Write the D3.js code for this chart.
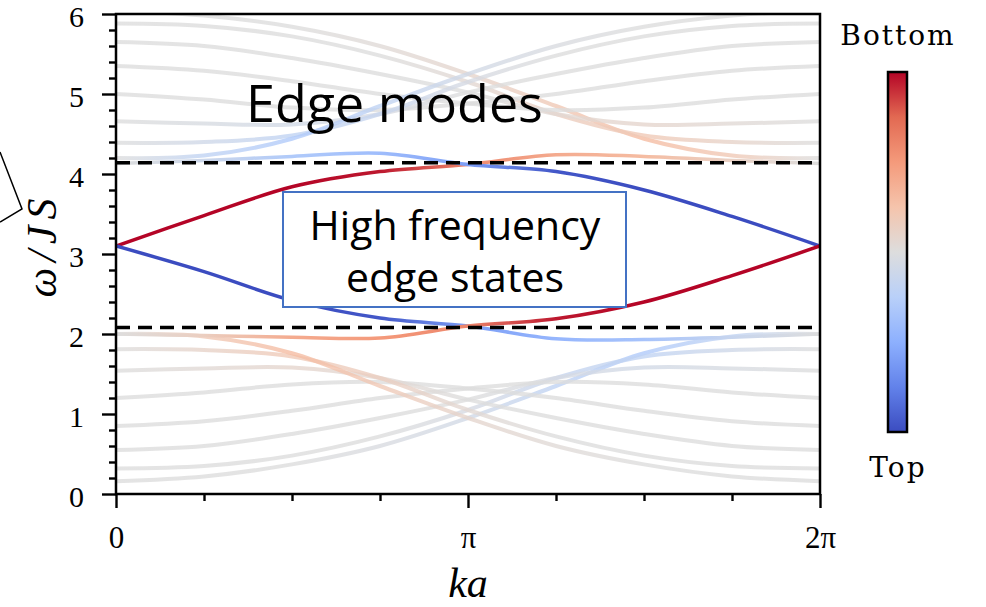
<!DOCTYPE html>
<html>
<head>
<meta charset="utf-8">
<script src="https://cdn.jsdelivr.net/npm/d3@7"></script>
<style>
  html, body { margin: 0; padding: 0; background: #fff; }
  #BandChart { width: 986px; height: 607px; }
</style>
</head>
<body>
<div id="BandChart"></div>
<script>
// k sample points (units of pi)
var kPts = [0, 0.25, 0.5, 0.75, 1, 1.25, 1.5, 1.75, 2];

// lower bulk band, omega/JS read at each k point
var lowerBand = [
  [0.16, 0.22, 0.37, 0.60, 0.95, 1.35, 1.76, 1.97, 2.00],
  [0.32, 0.35, 0.48, 0.72, 1.05, 1.45, 1.72, 1.80, 1.81],
  [0.55, 0.60, 0.75, 0.95, 1.18, 1.45, 1.58, 1.57, 1.54],
  [0.85, 0.91, 1.04, 1.20, 1.32, 1.40, 1.37, 1.27, 1.20],
  [1.20, 1.27, 1.37, 1.40, 1.32, 1.20, 1.04, 0.91, 0.85],
  [1.54, 1.57, 1.58, 1.45, 1.18, 0.95, 0.75, 0.60, 0.55],
  [1.81, 1.80, 1.72, 1.45, 1.05, 0.72, 0.48, 0.35, 0.32],
  [2.00, 1.97, 1.76, 1.35, 0.95, 0.60, 0.37, 0.22, 0.16]
];
// edge weight (-1 top .. +1 bottom) along each lower curve
var lowerPol = [
  [0, 0, 0, -0.03, -0.08, -0.2, -0.3, -0.2, 0],
  [0, 0, 0, 0, -0.05, -0.15, -0.2, -0.1, 0],
  [0, 0, 0, 0, 0, -0.05, -0.08, -0.04, 0],
  [0, 0, 0, 0, 0, 0, 0, 0, 0],
  [0, 0, 0, 0, 0, 0, 0, 0, 0],
  [0, 0.04, 0.08, 0.05, 0, 0, 0, 0, 0],
  [0, 0.1, 0.2, 0.15, 0.05, 0, 0, 0, 0],
  [0, 0.2, 0.3, 0.2, 0.08, 0.03, 0, 0, 0]
];

// upper bulk band
var upperBand = [
  [6.04, 5.98, 5.84, 5.60, 5.25, 4.85, 4.44, 4.23, 4.20],
  [5.88, 5.85, 5.72, 5.48, 5.15, 4.75, 4.48, 4.40, 4.39],
  [5.65, 5.60, 5.45, 5.25, 5.02, 4.75, 4.62, 4.63, 4.66],
  [5.35, 5.29, 5.16, 5.00, 4.88, 4.80, 4.83, 4.93, 5.00],
  [5.00, 4.93, 4.83, 4.80, 4.88, 5.00, 5.16, 5.29, 5.35],
  [4.66, 4.63, 4.62, 4.75, 5.02, 5.25, 5.45, 5.60, 5.65],
  [4.39, 4.40, 4.48, 4.75, 5.15, 5.48, 5.72, 5.85, 5.88],
  [4.20, 4.23, 4.44, 4.85, 5.25, 5.60, 5.84, 5.98, 6.04]
];
var upperPol = [
  [0, 0, 0, 0.03, 0.08, 0.2, 0.3, 0.2, 0],
  [0, 0, 0, 0, 0.05, 0.15, 0.2, 0.1, 0],
  [0, 0, 0, 0, 0, 0.05, 0.08, 0.04, 0],
  [0, 0, 0, 0, 0, 0, 0, 0, 0],
  [0, 0, 0, 0, 0, 0, 0, 0, 0],
  [0, -0.04, -0.08, -0.05, 0, 0, 0, 0, 0],
  [0, -0.1, -0.2, -0.15, -0.05, 0, 0, 0, 0],
  [0, -0.2, -0.3, -0.2, -0.08, -0.03, 0, 0, 0]
];

// in-gap edge states
var edgeBand = [
  [3.10, 3.48, 3.84, 4.03, 4.12, 4.24, 4.22, 4.17, 4.13],
  [4.13, 4.17, 4.22, 4.26, 4.12, 4.03, 3.80, 3.47, 3.10],
  [3.10, 2.78, 2.42, 2.20, 2.10, 1.94, 1.93, 1.96, 2.00],
  [2.00, 1.98, 1.96, 1.95, 2.10, 2.19, 2.40, 2.73, 3.10]
];
var edgePol = [
  [1, 1, 1, 0.95, 0.6, 0.4, 0.3, 0.12, 0],
  [0, -0.12, -0.3, -0.4, -0.6, -0.95, -1, -1, -1],
  [-1, -1, -1, -0.95, -0.6, -0.45, -0.35, -0.15, 0],
  [0, 0.15, 0.4, 0.5, 0.6, 0.95, 1, 1, 1]
];

var gapEdges = [2.08, 4.14];
var yTicks = [0, 1, 2, 3, 4, 5, 6];
var xTicks = [0, 1, 2];
var xTickLabels = ['0', 'π', '2π'];

var coolwarm = d3.piecewise(d3.interpolateRgb, [
  '#3b4cc0', '#6282ea', '#8db0fe', '#b9d0f9', '#dddddd',
  '#f5c4ac', '#f49a7b', '#e26952', '#b40426'
]);

var BandChart = {

  draw: function() {
    var svg = d3.select('#BandChart').append('svg')
      .attr('width', 986)
      .attr('height', 607);
    this.svg = svg;
    this.x = d3.scaleLinear().domain([0, 2]).range([116, 820]);
    this.y = d3.scaleLinear().domain([0, 6]).range([494, 14]);
    this.defs = svg.append('defs');
    this.defs.append('clipPath').attr('id', 'plotClip')
      .append('rect')
      .attr('x', 116).attr('y', 14)
      .attr('width', 704).attr('height', 480);

    this.drawCurves();
    this.drawFrame();
    this.drawColorbar();
    this.drawNotes();
  },

  gradient: function(id, pol) {
    var x = this.x;
    var g = this.defs.append('linearGradient')
      .attr('id', id)
      .attr('gradientUnits', 'userSpaceOnUse')
      .attr('x1', x(0)).attr('x2', x(2))
      .attr('y1', 0).attr('y2', 0);
    g.selectAll('stop').data(pol).enter()
      .append('stop')
      .attr('offset', function(d, i) { return kPts[i] / 2; })
      .attr('stop-color', function(d) { return coolwarm((d + 1) / 2); });
    return 'url(#' + id + ')';
  },

  drawCurves: function() {
    var self = this;
    var x = this.x, y = this.y;
    var line = d3.line()
      .x(function(d, i) { return x(kPts[i]); })
      .y(function(d) { return y(d); })
      .curve(d3.curveCatmullRom);

    var plot = this.svg.append('g').attr('clip-path', 'url(#plotClip)');

    var bulk = lowerBand.map(function(d, i) { return { e: d, p: lowerPol[i], id: 'lo' + i }; })
      .concat(upperBand.map(function(d, i) { return { e: d, p: upperPol[i], id: 'up' + i }; }));

    plot.selectAll('path.bulk').data(bulk).enter()
      .append('path')
      .classed('bulk', true)
      .attr('d', function(d) { return line(d.e); })
      .attr('fill', 'none')
      .attr('stroke', function(d) { return self.gradient('g_' + d.id, d.p); })
      .attr('stroke-width', 4)
      .attr('stroke-opacity', 0.8);

    plot.selectAll('path.edge').data(edgeBand).enter()
      .append('path')
      .classed('edge', true)
      .attr('d', function(d) { return line(d); })
      .attr('fill', 'none')
      .attr('stroke', function(d, i) { return self.gradient('g_edge' + i, edgePol[i]); })
      .attr('stroke-width', 3.5);

    plot.selectAll('line.gap').data(gapEdges).enter()
      .append('line')
      .classed('gap', true)
      .attr('x1', x(0)).attr('x2', x(2))
      .attr('y1', function(d) { return y(d); })
      .attr('y2', function(d) { return y(d); })
      .attr('stroke', '#000')
      .attr('stroke-width', 3.5)
      .attr('stroke-dasharray', '14,8');
  },

  drawFrame: function() {
    var svg = this.svg, x = this.x, y = this.y;
    var serif = '"Liberation Serif", "Times New Roman", serif';

    var minorY = d3.range(1, 30).map(function(i) { return i * 0.2; })
      .filter(function(v) { return Math.abs(v - Math.round(v)) > 0.01; });
    var minorX = [0.25, 0.5, 0.75, 1.25, 1.5, 1.75];

    var yMinor = svg.append('g').attr('transform', 'translate(116,0)')
      .call(d3.axisLeft(y).tickValues(minorY).tickSize(7).tickFormat(''));
    var yMajor = svg.append('g').attr('transform', 'translate(116,0)')
      .call(d3.axisLeft(y).tickValues(yTicks).tickSize(14).tickPadding(18).tickFormat(d3.format('d')));
    var xMinor = svg.append('g').attr('transform', 'translate(0,494)')
      .call(d3.axisBottom(x).tickValues(minorX).tickSize(7).tickFormat(''));
    var xMajor = svg.append('g').attr('transform', 'translate(0,494)')
      .call(d3.axisBottom(x).tickValues(xTicks).tickSize(14).tickPadding(18)
        .tickFormat(function(d, i) { return xTickLabels[i]; }));

    [yMinor, yMajor, xMinor, xMajor].forEach(function(g) {
      g.select('.domain').remove();
      g.selectAll('.tick line').attr('stroke', '#000').attr('stroke-width', 2.4);
      g.selectAll('.tick text')
        .attr('fill', '#000')
        .style('font-family', serif)
        .style('font-size', '31px');
    });
    yMajor.selectAll('.tick text')
      .style('font-size', '30px')
      .attr('dy', '0.4em');

    svg.append('rect')
      .attr('x', 116).attr('y', 14)
      .attr('width', 704).attr('height', 480)
      .attr('fill', 'none')
      .attr('stroke', '#000')
      .attr('stroke-width', 2.5);

    svg.append('text')
      .attr('x', 468).attr('y', 597)
      .attr('text-anchor', 'middle')
      .style('font-family', serif)
      .style('font-style', 'italic')
      .style('font-size', '42px')
      .text('ka');

    svg.append('text')
      .attr('transform', 'translate(56,245) rotate(-90)')
      .attr('text-anchor', 'middle')
      .style('font-family', serif)
      .style('font-style', 'italic')
      .style('font-size', '42px')
      .style('letter-spacing', '6px')
      .text('ω/JS');
  },

  drawColorbar: function() {
    var svg = this.svg;
    var cb = d3.scaleLinear().domain([-1, 1]).range([432, 72]);
    var grad = this.defs.append('linearGradient')
      .attr('id', 'cbGrad')
      .attr('x1', 0).attr('x2', 0).attr('y1', 1).attr('y2', 0);
    grad.selectAll('stop').data(d3.range(0, 1.001, 0.125)).enter()
      .append('stop')
      .attr('offset', function(d) { return d; })
      .attr('stop-color', function(d) { return coolwarm(d); });

    svg.append('rect')
      .attr('x', 888).attr('y', cb(1))
      .attr('width', 19).attr('height', cb(-1) - cb(1))
      .attr('fill', 'url(#cbGrad)')
      .attr('stroke', '#000')
      .attr('stroke-width', 2.5);

    var labels = [{ t: 'Bottom', y: 45 }, { t: 'Top', y: 477 }];
    svg.selectAll('text.cblabel').data(labels).enter()
      .append('text')
      .classed('cblabel', true)
      .attr('x', 898)
      .attr('y', function(d) { return d.y; })
      .attr('text-anchor', 'middle')
      .style('font-family', '"DejaVu Serif", serif')
      .style('font-size', '28px')
      .style('letter-spacing', '2px')
      .text(function(d) { return d.t; });
  },

  drawNotes: function() {
    var svg = this.svg;
    var sans = '"Open Sans", "Noto Sans", sans-serif';

    svg.append('text')
      .attr('x', 246).attr('y', 122)
      .style('font-family', sans)
      .style('font-size', '52px')
      .attr('fill', '#000')
      .text('Edge modes');

    svg.append('rect')
      .attr('x', 283).attr('y', 192)
      .attr('width', 343).attr('height', 115)
      .attr('fill', '#fff')
      .attr('stroke', '#4472c4')
      .attr('stroke-width', 2);

    svg.selectAll('text.note').data(['High frequency', 'edge states']).enter()
      .append('text')
      .classed('note', true)
      .attr('x', 455)
      .attr('y', function(d, i) { return 240 + i * 52; })
      .attr('text-anchor', 'middle')
      .style('font-family', sans)
      .style('font-size', '41px')
      .attr('fill', '#000')
      .text(function(d) { return d; });

    // callout pointer cut off at the left edge
    svg.append('path')
      .attr('d', 'M0,152 L22,209 L0,222')
      .attr('fill', 'none')
      .attr('stroke', '#000')
      .attr('stroke-width', 1.5);
  }

};

BandChart.draw();
</script>
</body>
</html>
